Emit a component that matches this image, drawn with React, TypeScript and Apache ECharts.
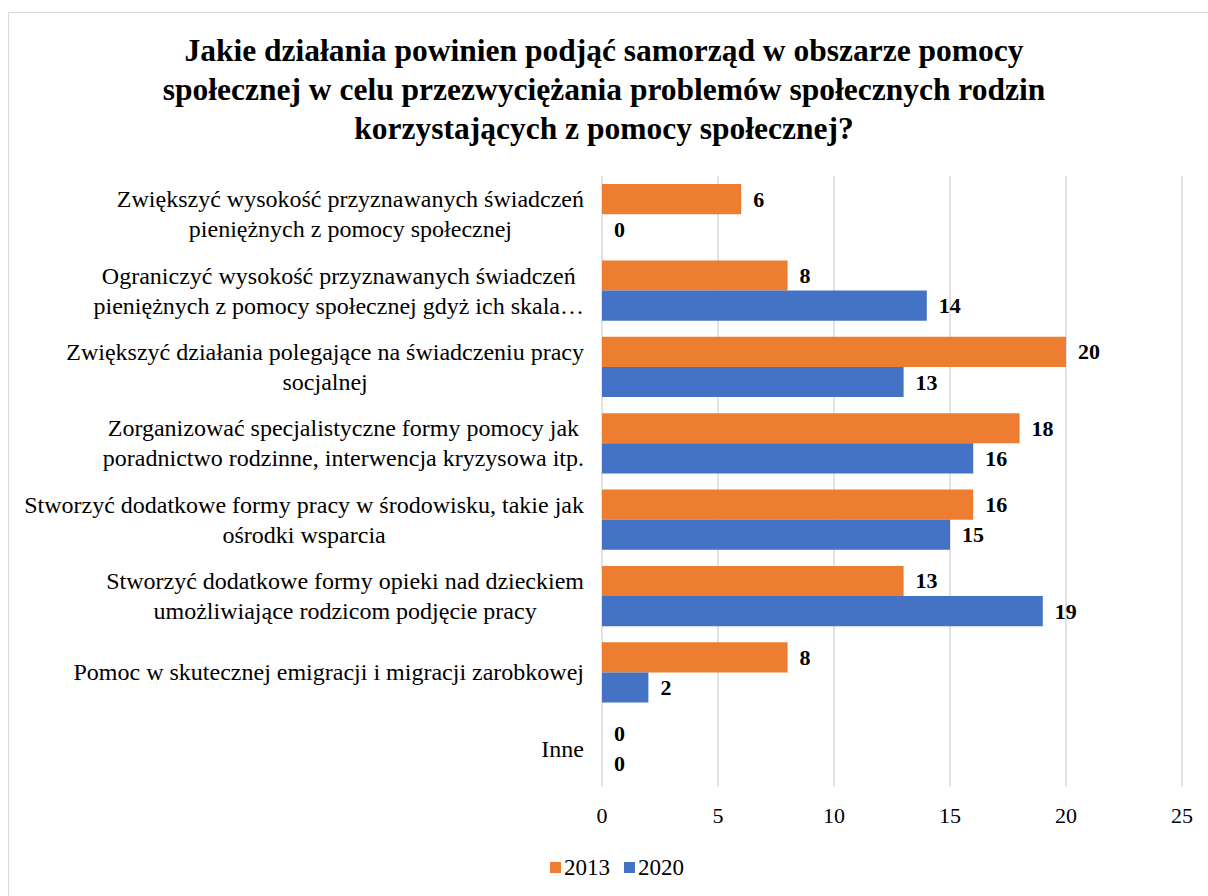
import React, { useEffect, useRef } from "react";
import * as echarts from "echarts";

const categories = [
  "Zwiększyć wysokość przyznawanych świadczeń\npieniężnych z pomocy społecznej",
  "Ograniczyć wysokość przyznawanych świadczeń\npieniężnych z pomocy społecznej gdyż ich skala…",
  "Zwiększyć działania polegające na świadczeniu pracy\nsocjalnej",
  "Zorganizować specjalistyczne formy pomocy jak\nporadnictwo rodzinne, interwencja kryzysowa itp.",
  "Stworzyć dodatkowe formy pracy w środowisku, takie jak\nośrodki wsparcia",
  "Stworzyć dodatkowe formy opieki nad dzieckiem\numożliwiające rodzicom podjęcie pracy",
  "Pomoc w skutecznej emigracji i migracji zarobkowej",
  "Inne",
];
const values2013 = [6, 8, 20, 18, 16, 13, 8, 0];
const values2020 = [0, 14, 13, 16, 15, 19, 2, 0];
const seriesNames = ["2013", "2020"];
const titleText =
  "Jakie działania powinien podjąć samorząd w obszarze pomocy\nspołecznej w celu przezwyciężania problemów społecznych rodzin\nkorzystających z pomocy społecznej?";

const FONT = "Liberation Serif";

export default function App() {
  const ref = useRef<HTMLDivElement>(null);
  useEffect(() => {
    if (!ref.current) return;
    const chart = echarts.init(ref.current, null, { renderer: "svg" });
    const labelStyle = {
      show: true,
      position: "right",
      distance: 12,
      color: "#000",
      fontFamily: FONT,
      fontSize: 22,
      fontWeight: "bold",
    };
    chart.setOption({
      animation: false,
      backgroundColor: "#fff",
      textStyle: { fontFamily: FONT },
      graphic: [
        {
          type: "rect",
          shape: { x: 8.5, y: 12.5, width: 1210, height: 900 },
          style: { fill: "none", stroke: "#d9d9d9", lineWidth: 1 },
          silent: true,
        },
      ],
      title: {
        text: titleText,
        left: "center",
        top: 26,
        textStyle: {
          fontFamily: FONT,
          fontSize: 31.5,
          fontWeight: "bold",
          color: "#000",
          lineHeight: 39,
        },
      },
      legend: {
        data: seriesNames,
        left: 545,
        top: 851,
        itemWidth: 11,
        itemHeight: 11,
        itemGap: 14,
        icon: "rect",
        textStyle: { fontFamily: FONT, fontSize: 23, color: "#000", padding: [0, 0, 0, -2] },
      },
      grid: { left: 602, right: 26, top: 176, bottom: 109, containLabel: false },
      xAxis: {
        type: "value",
        min: 0,
        max: 25,
        interval: 5,
        axisLine: { show: false },
        axisTick: { show: false },
        splitLine: { show: true, lineStyle: { color: "#d9d9d9", width: 1.5 } },
        axisLabel: { fontFamily: FONT, fontSize: 22, color: "#000", margin: 17 },
      },
      yAxis: {
        type: "category",
        data: categories,
        inverse: true,
        axisLine: { show: false },
        axisTick: { show: false },
        axisLabel: {
          margin: 18,
          fontFamily: FONT,
          formatter: (v: string) =>
            v
              .split("\n")
              .map((l) => "{c|" + l + "}")
              .join("\n"),
          rich: {
            c: {
              align: "center",
              fontFamily: FONT,
              fontSize: 24,
              color: "#000",
              lineHeight: 30,
            },
          },
        },
      },
      series: [
        {
          name: seriesNames[0],
          type: "bar",
          data: values2013,
          itemStyle: { color: "#ED7D31" },
          barGap: "0%",
          barCategoryGap: "21%",
          label: labelStyle,
        },
        {
          name: seriesNames[1],
          type: "bar",
          data: values2020,
          itemStyle: { color: "#4472C4" },
          barGap: "0%",
          barCategoryGap: "21%",
          label: labelStyle,
        },
      ],
    });
    return () => chart.dispose();
  }, []);
  return (
    <div
      ref={ref}
      style={{ position: "absolute", left: 0, top: 0, width: 1208, height: 896 }}
    />
  );
}
